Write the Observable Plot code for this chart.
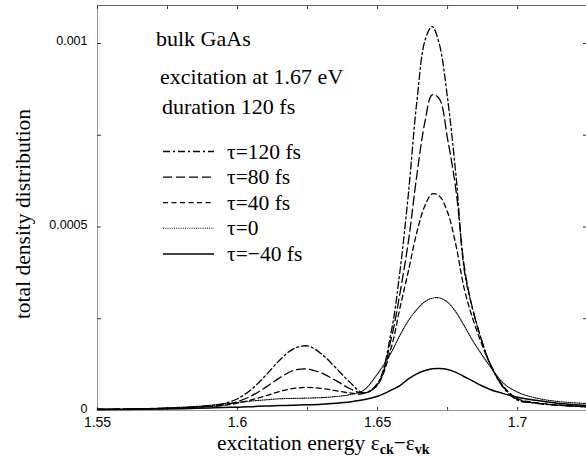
<!DOCTYPE html>
<html>
<head>
<meta charset="utf-8">
<script src="https://cdn.jsdelivr.net/npm/d3@7"></script>
<script src="https://cdn.jsdelivr.net/npm/@observablehq/plot@0.6"></script>
<style>
  html, body { margin: 0; padding: 0; background: #fff; }
  #chart svg { display: block; }
</style>
</head>
<body>
<div id="chart"></div>
<script>
// ---- data ----
const energy = [1.55, 1.56, 1.57, 1.58, 1.585, 1.59, 1.595, 1.60, 1.605, 1.61, 1.615, 1.62, 1.625, 1.63, 1.635, 1.64, 1.645, 1.65, 1.655, 1.658, 1.661, 1.664, 1.667, 1.6695, 1.672, 1.675, 1.678, 1.681, 1.684, 1.687, 1.69, 1.695, 1.70, 1.705, 1.71, 1.715, 1.72, 1.725];

const tau120 = [4e-6, 4e-6, 5e-6, 7e-6, 1.0e-5, 1.3e-5, 1.9e-5, 3.2e-5, 5.8e-5, 9.5e-5, 1.37e-4, 1.68e-4, 1.76e-4, 1.54e-4, 1.17e-4, 7.8e-5, 4.8e-5, 7.4e-5, 2.2e-4, 3.8e-4, 5.9e-4, 8.4e-4, 1.01e-3, 1.046e-3, 1.0e-3, 8.5e-4, 6.4e-4, 3.8e-4, 2.75e-4, 1.95e-4, 1.3e-4, 6.1e-5, 2.8e-5, 2.1e-5, 1.7e-5, 1.4e-5, 1.2e-5, 1.0e-5];
const tau80 = [4e-6, 4e-6, 5e-6, 7e-6, 9e-6, 1.1e-5, 1.5e-5, 2.4e-5, 4.0e-5, 6.3e-5, 8.9e-5, 1.09e-4, 1.13e-4, 1.02e-4, 8.2e-5, 6.0e-5, 4.7e-5, 7.0e-5, 2.0e-4, 3.2e-4, 4.6e-4, 6.4e-4, 7.9e-4, 8.6e-4, 8.5e-4, 7.4e-4, 6.0e-4, 3.9e-4, 2.75e-4, 1.95e-4, 1.3e-4, 6.3e-5, 3.0e-5, 2.2e-5, 1.7e-5, 1.4e-5, 1.2e-5, 1.0e-5];
const tau40 = [3e-6, 4e-6, 5e-6, 7e-6, 9e-6, 1.1e-5, 1.4e-5, 2.0e-5, 2.9e-5, 4.0e-5, 5.2e-5, 6.0e-5, 6.3e-5, 6.0e-5, 5.4e-5, 4.8e-5, 4.6e-5, 7.0e-5, 1.75e-4, 2.8e-4, 3.8e-4, 4.85e-4, 5.6e-4, 5.9e-4, 5.85e-4, 5.4e-4, 4.5e-4, 3.3e-4, 2.5e-4, 1.85e-4, 1.3e-4, 6.5e-5, 3.2e-5, 2.3e-5, 1.8e-5, 1.5e-5, 1.2e-5, 1.0e-5];
const tau0 = [3e-6, 4e-6, 6e-6, 9e-6, 1.1e-5, 1.4e-5, 1.8e-5, 2.2e-5, 2.6e-5, 2.9e-5, 3.2e-5, 3.3e-5, 3.4e-5, 3.5e-5, 3.8e-5, 4.3e-5, 5.5e-5, 1.0e-4, 1.6e-4, 2.05e-4, 2.45e-4, 2.75e-4, 2.97e-4, 3.06e-4, 3.07e-4, 2.95e-4, 2.68e-4, 2.3e-4, 1.9e-4, 1.55e-4, 1.22e-4, 7.4e-5, 5.0e-5, 3.7e-5, 2.9e-5, 2.4e-5, 2.1e-5, 1.9e-5];
const tauM40 = [2e-6, 3e-6, 4e-6, 5e-6, 6e-6, 7e-6, 8e-6, 9e-6, 1.05e-5, 1.2e-5, 1.35e-5, 1.45e-5, 1.55e-5, 1.7e-5, 1.95e-5, 2.3e-5, 2.9e-5, 3.9e-5, 5.6e-5, 6.8e-5, 8.6e-5, 1.0e-4, 1.09e-4, 1.135e-4, 1.145e-4, 1.12e-4, 1.04e-4, 9.2e-5, 8.0e-5, 6.8e-5, 5.8e-5, 4.6e-5, 3.6e-5, 2.9e-5, 2.4e-5, 1.9e-5, 1.6e-5, 1.3e-5];

const seriesNames = ["τ=120 fs", "τ=80 fs", "τ=40 fs", "τ=0", "τ=−40 fs"];
const seriesValues = [tau120, tau80, tau40, tau0, tauM40];
const seriesDash = ["7,3,2,3", "9,4", "5,3.5", "1,1.2", null];
const seriesWidth = [1.3, 1.3, 1.3, 1.1, 1.5];

const xTickValues = [1.55, 1.6, 1.65, 1.7];
const xTickLabels = ["1.55", "1.6", "1.65", "1.7"];
const xMinorTicks = [1.55, 1.575, 1.6, 1.625, 1.65, 1.675, 1.7];
const yTickValues = [0, 0.0005, 0.001];
const yTickLabels = ["0", "0.0005", "0.001"];
const yMinorTicks = [0.00025, 0.0005, 0.00075, 0.001];
const annotations = ["bulk GaAs", "excitation at 1.67 eV", "duration 120 fs"];

const xDomain = [1.55, 1.7246];
const yDomain = [0, 0.0011035];

// ---- build table ----
const rows = [];
seriesNames.forEach((name, s) => {
  energy.forEach((e, i) => rows.push({series: name, s, energy: e, value: seriesValues[s][i]}));
});

const sans = "'Liberation Sans', Arial, sans-serif";
const serif = "'Liberation Serif', 'Times New Roman', serif";

const lineMarks = seriesNames.map((name, s) =>
  Plot.line(rows.filter(r => r.s === s), {
    x: "energy", y: "value", curve: "catmull-rom",
    stroke: "#000", strokeWidth: seriesWidth[s],
    strokeDasharray: seriesDash[s] || undefined
  })
);

const chart = Plot.plot({
  width: 586,
  height: 457,
  marginLeft: 97,
  marginRight: 0,
  marginTop: 5,
  marginBottom: 47,
  style: {background: "#fff", fontFamily: sans},
  x: {domain: xDomain, label: null},
  y: {domain: yDomain, label: null},
  marks: [
    Plot.ruleX([xDomain[0]], {stroke: "#999", strokeWidth: 1}),
    Plot.ruleY([yDomain[0]], {stroke: "#999", strokeWidth: 1}),
    Plot.ruleY([yDomain[1]], {stroke: "#666", strokeWidth: 1}),
    Plot.axisX({anchor: "bottom", ticks: xTickValues, tickSize: 0, tickPadding: 7, label: null,
      tickFormat: d => xTickLabels[xTickValues.indexOf(d)], fontSize: 14, fill: "#000"}),
    Plot.axisX({anchor: "bottom", ticks: xMinorTicks, tickSize: -3, tickFormat: () => "", label: null, stroke: "#333"}),
    Plot.axisX({anchor: "top", ticks: xMinorTicks, tickSize: -3, tickFormat: () => "", label: null, stroke: "#333"}),
    Plot.axisY({anchor: "left", ticks: yTickValues, tickSize: 0, tickPadding: 10, dy: -2, label: null,
      tickFormat: d => yTickLabels[yTickValues.indexOf(d)], fontSize: 12.5, fill: "#000"}),
    Plot.axisY({anchor: "left", ticks: yMinorTicks, tickSize: -4, tickFormat: () => "", label: null, stroke: "#333"}),
    Plot.axisY({anchor: "right", ticks: yMinorTicks, tickSize: -4, tickFormat: () => "", label: null, stroke: "#333"}),
    ...lineMarks
  ]
});

document.getElementById("chart").appendChild(chart);

// ---- labels, annotations, legend ----
const svg = d3.select(chart);
const g = svg.append("g").attr("fill", "#000")
  .style("font-family", serif).attr("text-anchor", "start");

function txt(sel) { return sel.style("font-family", serif).attr("text-anchor", "start"); }

// x label
const xl = txt(g.append("text")).attr("x", 217).attr("y", 450).style("font-size", "21.5px");
xl.append("tspan").text("excitation energy ε");
xl.append("tspan").attr("dy", 4).style("font-size", "14px").style("font-weight", "bold").text("ck");
xl.append("tspan").attr("dy", -4).text("−ε");
xl.append("tspan").attr("dy", 4).style("font-size", "14px").style("font-weight", "bold").text("vk");

// y label
g.append("text").attr("transform", "translate(30,214) rotate(-90)")
  .style("font-family", serif).attr("text-anchor", "middle").style("font-size", "21.5px")
  .text("total density distribution");

// annotations
const annX = [156, 160, 162];
const annY = [46, 84, 114];
annotations.forEach((t, i) => {
  txt(g.append("text")).attr("x", annX[i]).attr("y", annY[i]).style("font-size", "22px").text(t);
});

// legend
const legY0 = 151.5, legStep = 25.6;
seriesNames.forEach((name, s) => {
  const y = legY0 + s * legStep;
  const ln = g.append("line").attr("x1", 163).attr("x2", 214).attr("y1", y).attr("y2", y)
    .attr("stroke", "#000").attr("stroke-width", seriesWidth[s]);
  if (seriesDash[s]) ln.attr("stroke-dasharray", seriesDash[s]);
  txt(g.append("text")).attr("x", 227).attr("y", y + 7).style("font-size", "21.5px").text(name);
});
</script>
</body>
</html>
